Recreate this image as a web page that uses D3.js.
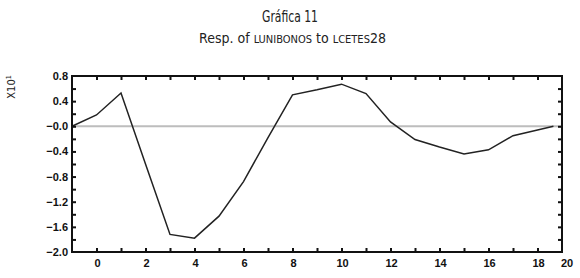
<!DOCTYPE html>
<html><head><meta charset="utf-8">
<script src="https://cdn.jsdelivr.net/npm/d3@7"></script>
<style>
body{margin:0;background:#fff;}
svg{display:block;}
</style></head>
<body>
<svg id="c" width="580" height="278"></svg>
<script>
const title = "Gráfica 11";
const periods = [-1, 0, 1, 2, 3, 4, 5, 6, 7, 8, 9, 10, 11, 12, 13, 14, 15, 16, 17, 18, 18.65];
const response = [0, 0.18, 0.53, -0.6, -1.72, -1.78, -1.43, -0.88, -0.18, 0.50, 0.58, 0.67, 0.52, 0.07, -0.21, -0.33, -0.44, -0.375, -0.15, -0.06, 0];
const xTickLabels = [0, 2, 4, 6, 8, 10, 12, 14, 16, 18];
const xEndLabel = "20";
const yTickLabels = [0.8, 0.4, 0.0, -0.4, -0.8, -1.2, -1.6, -2.0];

const svg = d3.select("#c");
const L = 72, R = 562, T = 76, B = 252;
const x = d3.scaleLinear().domain([-1, 19]).range([L, R]);
const y = d3.scaleLinear().domain([-2.0, 0.8]).range([B, T]);

const tf = "'DejaVu Sans Condensed','Liberation Sans Narrow',sans-serif";
// titles
svg.append("text").attr("x", 290).attr("y", 22).attr("text-anchor", "middle")
  .attr("font-family", tf).attr("font-size", 15).attr("fill", "#222")
  .attr("textLength", 56).attr("lengthAdjust", "spacingAndGlyphs").text(title);
const sub = svg.append("text").attr("x", 292.5).attr("y", 43).attr("text-anchor", "middle")
  .attr("font-family", tf).attr("font-size", 14).attr("fill", "#222");
sub.append("tspan").text("Resp. of ");
sub.append("tspan").attr("font-size", 11).text("LUNIBONOS");
sub.append("tspan").text(" to ");
sub.append("tspan").attr("font-size", 11).text("LCETES");
sub.append("tspan").text("28");

// zero line
svg.append("line").attr("x1", L).attr("x2", R).attr("y1", y(0)).attr("y2", y(0))
  .attr("stroke", "#bdbdbd").attr("stroke-width", 2);

// data line
svg.append("path").datum(periods.map((p, i) => [p, response[i]]))
  .attr("fill", "none").attr("stroke", "#222").attr("stroke-width", 1.5)
  .attr("stroke-linejoin", "miter")
  .attr("d", d3.line().x(d => x(d[0])).y(d => y(d[1])));

// axes: inward ticks
const fnt = "'Liberation Sans',Arial,sans-serif";
const intTicks = d3.range(0, 19);
const yMinor = d3.range(-1.8, 0.8, 0.2);
const axisBottom = svg.append("g").attr("transform", `translate(0,${B})`)
  .call(d3.axisBottom(x).tickValues(intTicks).tickSize(-4).tickFormat(""));
const axisTop = svg.append("g").attr("transform", `translate(0,${T})`)
  .call(d3.axisTop(x).tickValues(intTicks).tickSize(-4).tickFormat(""));
const axisLeft = svg.append("g").attr("transform", `translate(${L},0)`)
  .call(d3.axisLeft(y).tickValues(yMinor).tickSize(-4).tickFormat(""));
const axisRight = svg.append("g").attr("transform", `translate(${R},0)`)
  .call(d3.axisRight(y).tickValues(yMinor).tickSize(-4).tickFormat(""));
[axisBottom, axisTop, axisLeft, axisRight].forEach(g => {
  g.select(".domain").remove();
  g.selectAll(".tick line").attr("stroke", "#111").attr("stroke-width", 2);
});
svg.append("rect").attr("x", L).attr("y", T).attr("width", R - L).attr("height", B - T)
  .attr("fill", "none").attr("stroke", "#111").attr("stroke-width", 2);

// tick labels
svg.append("g").selectAll("text").data(yTickLabels).join("text")
  .attr("x", L - 4).attr("y", d => y(d) + 4).attr("text-anchor", "end")
  .attr("font-family", fnt).attr("font-weight", "bold").attr("font-size", 11).attr("fill", "#111")
  .text(d => d > 0 ? d.toFixed(1) : "\u2212" + Math.abs(d).toFixed(1));
svg.append("g").selectAll("text").data(xTickLabels).join("text")
  .attr("x", d => x(d) + 1).attr("y", B + 15).attr("text-anchor", "middle")
  .attr("font-family", fnt).attr("font-weight", "bold").attr("font-size", 11).attr("fill", "#111")
  .text(d => d);
svg.append("text").attr("x", x(19) + 5).attr("y", B + 15).attr("text-anchor", "middle")
  .attr("font-family", fnt).attr("font-weight", "bold").attr("font-size", 11).attr("fill", "#111")
  .text(xEndLabel);

// y unit label
const yl = svg.append("text").attr("transform", "translate(15,87) rotate(-90)")
  .attr("text-anchor", "middle").attr("font-family", tf)
  .attr("font-size", 11).attr("fill", "#222");
yl.append("tspan").text("X10");
yl.append("tspan").attr("font-size", 7).attr("dy", -4).text("1");
</script>
</body></html>
